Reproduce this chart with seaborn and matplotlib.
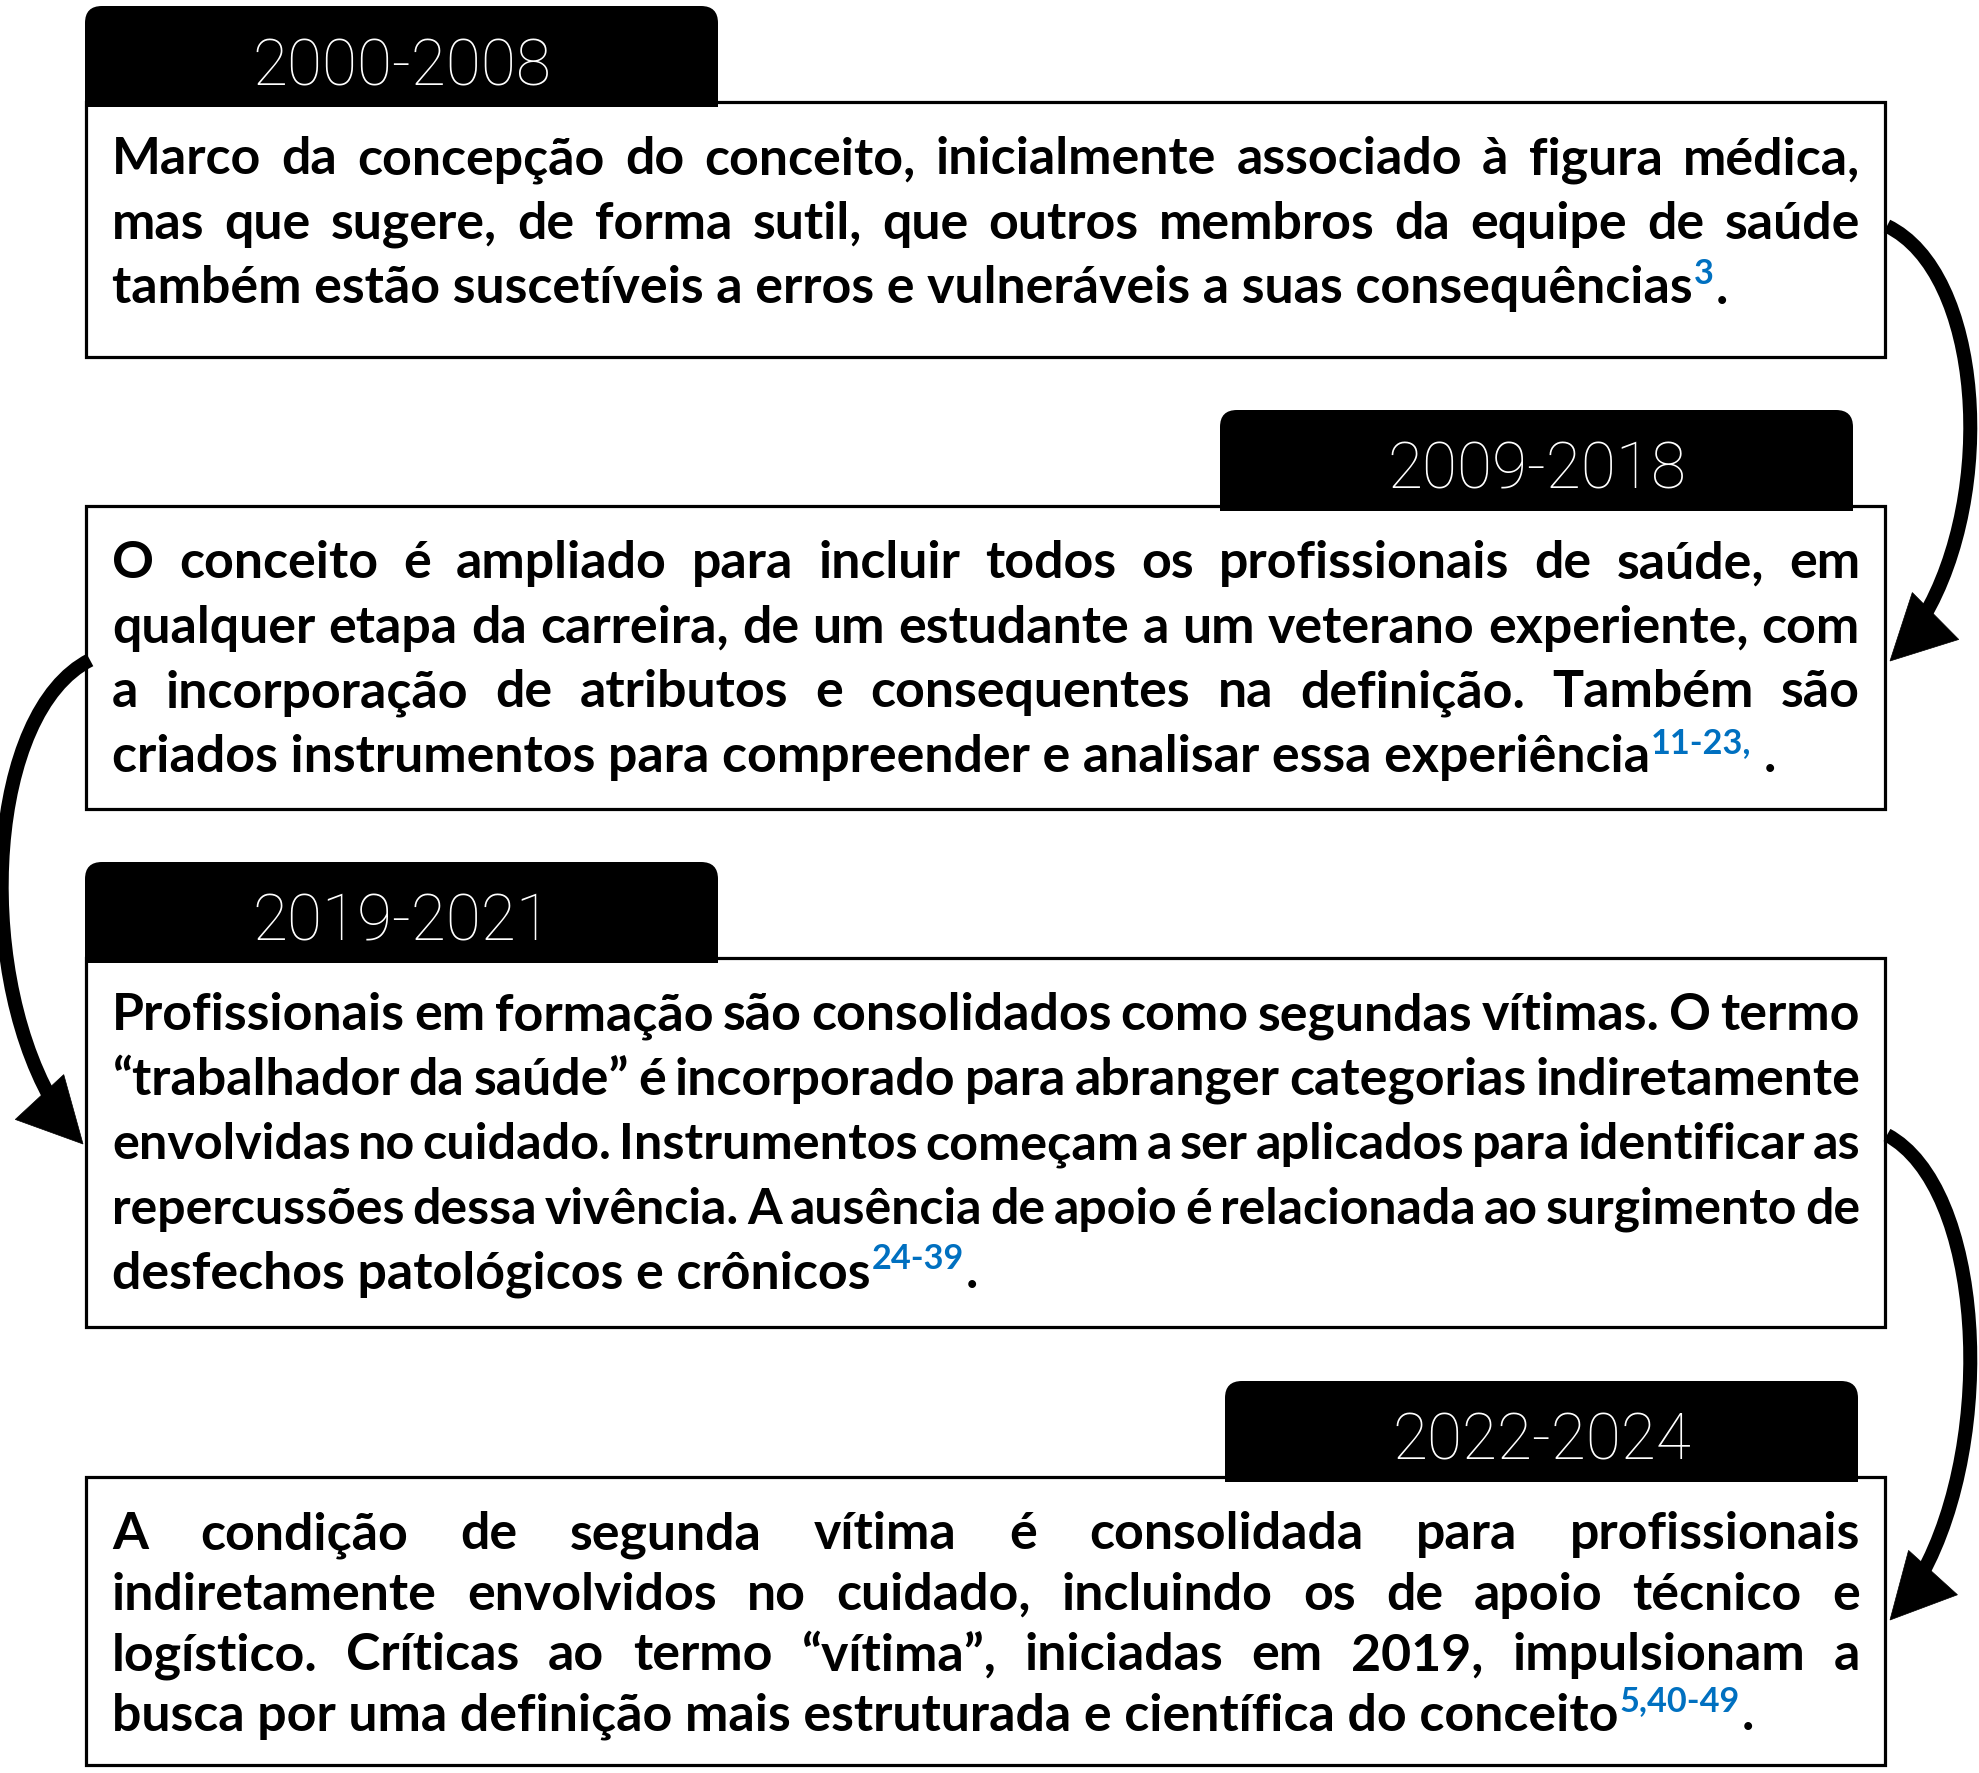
import numpy as np
import matplotlib
matplotlib.use("Agg")
import matplotlib.pyplot as plt
import seaborn as sns
from matplotlib.patches import Rectangle, FancyBboxPatch, Polygon, PathPatch
from matplotlib.path import Path

# ---------------- data ----------------
periods = ["2000-2008", "2009-2018", "2019-2021", "2022-2024"]

desc_2000_2008 = [
    "Marco da concepção do conceito, inicialmente associado à figura médica,",
    "mas que sugere, de forma sutil, que outros membros da equipe de saúde",
    "também estão suscetíveis a erros e vulneráveis a suas consequências",
]
desc_2009_2018 = [
    "O conceito é ampliado para incluir todos os profissionais de saúde, em",
    "qualquer etapa da carreira, de um estudante a um veterano experiente, com",
    "a incorporação de atributos e consequentes na definição. Também são",
    "criados instrumentos para compreender e analisar essa experiência",
]
desc_2019_2021 = [
    "Profissionais em formação são consolidados como segundas vítimas. O termo",
    "“trabalhador da saúde” é incorporado para abranger categorias indiretamente",
    "envolvidas no cuidado. Instrumentos começam a ser aplicados para identificar as",
    "repercussões dessa vivência. A ausência de apoio é relacionada ao surgimento de",
    "desfechos patológicos e crônicos",
]
desc_2022_2024 = [
    "A condição de segunda vítima é consolidada para profissionais",
    "indiretamente envolvidos no cuidado, incluindo os de apoio técnico e",
    "logístico. Críticas ao termo “vítima”, iniciadas em 2019, impulsionam a",
    "busca por uma definição mais estruturada e científica do conceito",
]
descriptions = [desc_2000_2008, desc_2009_2018, desc_2019_2021, desc_2022_2024]
refs = ["3", "11-23,", "24-39", "5,40-49"]
ref_tails = [".", " .", ".", "."]
tab_sides = ["left", "right", "left", "right"]

# ---------------- layout ----------------
W_PX, H_PX = 1979, 1774
BOX_L, BOX_R = 86, 1885
box_top = [103, 507, 959, 1478]
box_bot = [358, 810, 1328, 1766]
line_step = [64.5, 64.5, 64.5, 60.3]
tab_right_inset = [0, 32, 0, 27]
TEXT_L, TEXT_R = 112, 1860
TAB_W, TAB_H = 633, 101
BLUE = "#0070C0"
MIN_GAP_EM = 0.16

sns.set_theme(style="white")
plt.rcParams["font.family"] = ["Lato", "DejaVu Sans"]
BODY = ["Lato", "DejaVu Sans"]
TABF = ["Roboto", "DejaVu Sans"]

fig = plt.figure(figsize=(W_PX / 100, H_PX / 100), dpi=100)
ax = fig.add_axes([0, 0, 1, 1])
ax.set_xlim(0, W_PX)
ax.set_ylim(H_PX, 0)
ax.axis("off")
sns.despine(ax=ax, left=True, bottom=True)
renderer = fig.canvas.get_renderer()


def text_width(s, size, family=BODY, weight="bold"):
    t = ax.text(0, 0, s, fontsize=size, family=family, fontweight=weight)
    w = t.get_window_extent(renderer).width
    t.remove()
    return w


# global body font size: fit the width of the unjustified last line of box 1
fs0 = 30.0
fs = 0.99 * fs0 * 1597.0 / text_width(desc_2000_2008[-1], fs0)
fs_px = fs * 100 / 72
sup_fs = fs * 0.66


def line_size(words):
    """Font size for a justified line: global size, shrunk only if too tight."""
    sw0 = sum(text_width(w, fs0) for w in words)
    k = (TEXT_R - TEXT_L) / (sw0 + (len(words) - 1) * MIN_GAP_EM * fs0 * 100 / 72)
    return min(fs, fs0 * k)


for i, period in enumerate(periods):
    top, bot = box_top[i], box_bot[i]
    # box
    ax.add_patch(Rectangle((BOX_L, top), BOX_R - BOX_L, bot - top,
                           facecolor="white", edgecolor="black", lw=2.3, zorder=1))
    # tab
    if tab_sides[i] == "left":
        tx0 = BOX_L - 1
    else:
        tx0 = BOX_R - tab_right_inset[i] - TAB_W
    ty0 = top - TAB_H + 5
    ax.add_patch(FancyBboxPatch((tx0, ty0), TAB_W, 60,
                                boxstyle="round,pad=0,rounding_size=17",
                                facecolor="black", edgecolor="none", zorder=2))
    ax.add_patch(Rectangle((tx0, ty0 + 30), TAB_W, TAB_H - 30,
                           facecolor="black", edgecolor="none", zorder=2))
    ax.text(tx0 + TAB_W / 2, top - 18, period, ha="center", va="baseline",
            color="white", fontsize=46, family=TABF, fontweight="light", zorder=3)

    # body text (justified)
    lines = descriptions[i]
    for j, ln in enumerate(lines):
        y = top + 71.5 + j * line_step[i]
        if j < len(lines) - 1:
            words = ln.split(" ")
            lfs = line_size(words)
            ws = [text_width(w, lfs) for w in words]
            gap = (TEXT_R - TEXT_L - sum(ws)) / (len(words) - 1)
            x = TEXT_L
            for w, wd in zip(words, ws):
                ax.text(x, y, w, ha="left", va="baseline", fontsize=lfs,
                        family=BODY, fontweight="bold", color="black", zorder=3)
                x += wd + gap
        else:
            ax.text(TEXT_L, y, ln, ha="left", va="baseline", fontsize=fs,
                    family=BODY, fontweight="bold", color="black", zorder=3)
            x = TEXT_L + text_width(ln, fs) + 1
            ax.text(x, y - 0.37 * fs_px, refs[i], ha="left", va="baseline",
                    fontsize=sup_fs, family=BODY, fontweight="bold",
                    color=BLUE, zorder=3)
            x += text_width(refs[i], sup_fs) + 2
            tail = ref_tails[i]
            if tail.startswith(" "):
                x += 0.2 * fs_px
                tail = tail.strip()
            ax.text(x, y, tail, ha="left", va="baseline", fontsize=fs,
                    family=BODY, fontweight="bold", color="black", zorder=3)


# ---------------- curved arrows ----------------
def bez(P, t):
    t = np.asarray(t)[:, None]
    return ((1 - t) ** 3 * P[0] + 3 * (1 - t) ** 2 * t * P[1]
            + 3 * (1 - t) * t ** 2 * P[2] + t ** 3 * P[3])


def split(P, t):
    p01 = (1 - t) * P[0] + t * P[1]
    p12 = (1 - t) * P[1] + t * P[2]
    p23 = (1 - t) * P[2] + t * P[3]
    p012 = (1 - t) * p01 + t * p12
    p123 = (1 - t) * p12 + t * p23
    p0123 = (1 - t) * p012 + t * p123
    return np.array([P[0], p01, p012, p0123])


def curved_arrow(p0, c1, c2, p3, lw_px=14, head_len=64, head_w=66):
    P = np.array([p0, c1, c2, p3], dtype=float)
    d = P[3] - P[2]
    d = d / np.linalg.norm(d)
    n = np.array([-d[1], d[0]])
    base = P[3] - d * head_len
    ts = np.linspace(0, 1, 4001)
    dist = np.linalg.norm(bez(P, ts) - P[3], axis=1)
    t_cut = ts[dist >= head_len * 0.85].max()
    sub = split(P, t_cut)
    path = Path(sub, [Path.MOVETO, Path.CURVE4, Path.CURVE4, Path.CURVE4])
    ax.add_patch(PathPatch(path, facecolor="none", edgecolor="black",
                           lw=lw_px * 72 / 100, capstyle="butt", zorder=4))
    ax.add_patch(Polygon([P[3], base + n * head_w / 2, base - n * head_w / 2],
                         closed=True, facecolor="black", edgecolor="black",
                         lw=0.5, zorder=4))


arrow_specs = [("right", 227, 662), ("left", 661, 1145), ("right", 1136, 1621)]
for side, y0, y1 in arrow_specs:
    span = y1 - y0
    if side == "right":
        curved_arrow((BOX_R + 2, y0), (BOX_R + 110, y0 + 0.12 * span),
                     (BOX_R + 115, y1 - 0.25 * span), (BOX_R + 5, y1))
    else:
        curved_arrow((BOX_L + 4, y0), (BOX_L - 110, y0 + 0.12 * span),
                     (BOX_L - 115, y1 - 0.25 * span), (BOX_L - 3, y1))

fig.savefig("out.png", dpi=100, facecolor="white")
